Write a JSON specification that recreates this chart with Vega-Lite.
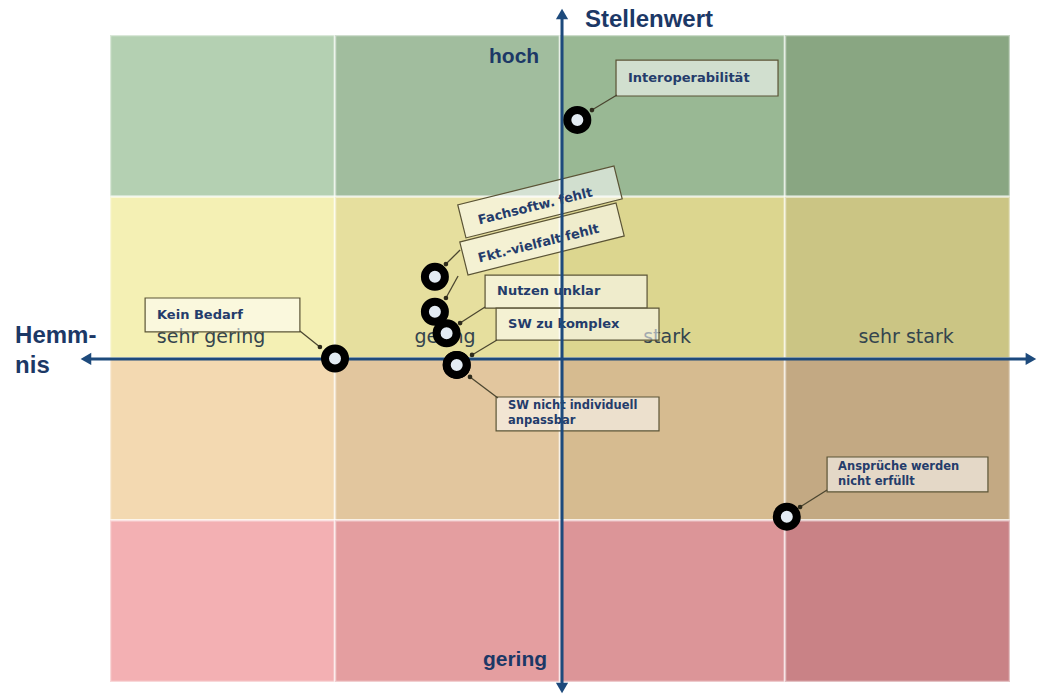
{
  "$schema": "https://vega.github.io/schema/vega-lite/v6.json",
  "width": 900,
  "height": 647,
  "autosize": {"type": "none"},
  "padding": {"left": 110, "top": 35, "right": 29, "bottom": 17},
  "background": "white",
  "config": {"view": {"stroke": null}},
  "datasets": {
    "cells": [
      {"cell": "g1", "x0": 0, "x1": 1, "y0": 3, "y1": 4},
      {"cell": "g2", "x0": 1, "x1": 2, "y0": 3, "y1": 4},
      {"cell": "g3", "x0": 2, "x1": 3, "y0": 3, "y1": 4},
      {"cell": "g4", "x0": 3, "x1": 4, "y0": 3, "y1": 4},
      {"cell": "y1", "x0": 0, "x1": 1, "y0": 2, "y1": 3},
      {"cell": "y2", "x0": 1, "x1": 2, "y0": 2, "y1": 3},
      {"cell": "y3", "x0": 2, "x1": 3, "y0": 2, "y1": 3},
      {"cell": "y4", "x0": 3, "x1": 4, "y0": 2, "y1": 3},
      {"cell": "t1", "x0": 0, "x1": 1, "y0": 1, "y1": 2},
      {"cell": "t2", "x0": 1, "x1": 2, "y0": 1, "y1": 2},
      {"cell": "t3", "x0": 2, "x1": 3, "y0": 1, "y1": 2},
      {"cell": "t4", "x0": 3, "x1": 4, "y0": 1, "y1": 2},
      {"cell": "r1", "x0": 0, "x1": 1, "y0": 0, "y1": 1},
      {"cell": "r2", "x0": 1, "x1": 2, "y0": 0, "y1": 1},
      {"cell": "r3", "x0": 2, "x1": 3, "y0": 0, "y1": 1},
      {"cell": "r4", "x0": 3, "x1": 4, "y0": 0, "y1": 1}
    ],
    "cols": [
      {"label": "sehr gering", "x": 0.449, "y": 2.13},
      {"label": "gering", "x": 1.489, "y": 2.13},
      {"label": "stark", "x": 2.476, "y": 2.13},
      {"label": "sehr stark", "x": 3.538, "y": 2.13}
    ],
    "boxes": [
      {"name": "Interoperabilität", "bx0": 2.249, "bx1": 2.969, "by0": 3.623, "by1": 3.845, "tx": 2.302, "ty": 3.734},
      {"name": "Nutzen unklar", "bx0": 1.667, "bx1": 2.387, "by0": 2.312, "by1": 2.516, "tx": 1.72, "ty": 2.417},
      {"name": "SW zu komplex", "bx0": 1.716, "bx1": 2.44, "by0": 2.114, "by1": 2.312, "tx": 1.769, "ty": 2.213},
      {"name": "Kein Bedarf", "bx0": 0.156, "bx1": 0.844, "by0": 2.164, "by1": 2.374, "tx": 0.209, "ty": 2.269}
    ],
    "boxes2": [
      {"lines": ["SW nicht individuell", "anpassbar"], "bx0": 1.716, "bx1": 2.44, "by0": 1.552, "by1": 1.762, "tx": 1.769, "ty": 1.709},
      {"lines": ["Ansprüche werden", "nicht erfüllt"], "bx0": 3.187, "bx1": 3.902, "by0": 1.175, "by1": 1.391, "tx": 3.236, "ty": 1.329}
    ],
    "tilted": [
      {"name": "Fachsoftw. fehlt", "cx": 1.911, "cy": 2.968, "tx": 1.89, "ty": 2.94},
      {"name": "Fkt.-vielfalt fehlt", "cx": 1.92, "cy": 2.739, "tx": 1.905, "ty": 2.71}
    ],
    "arrows": [
      {"name": "Interoperabilität", "ax": 2.253, "ay": 3.629, "bx": 2.142, "by": 3.536},
      {"name": "Fachsoftw. fehlt", "ax": 1.556, "ay": 2.671, "bx": 1.493, "by": 2.584},
      {"name": "Fkt.-vielfalt fehlt", "ax": 1.547, "ay": 2.51, "bx": 1.493, "by": 2.374},
      {"name": "Nutzen unklar", "ax": 1.667, "ay": 2.318, "bx": 1.556, "by": 2.219},
      {"name": "SW zu komplex", "ax": 1.72, "ay": 2.114, "bx": 1.609, "by": 2.022},
      {"name": "SW nicht individuell anpassbar", "ax": 1.724, "ay": 1.756, "bx": 1.6, "by": 1.886},
      {"name": "Kein Bedarf", "ax": 0.844, "ay": 2.17, "bx": 0.933, "by": 2.071},
      {"name": "Ansprüche werden nicht erfüllt", "ax": 3.187, "ay": 1.187, "bx": 3.067, "by": 1.082}
    ],
    "axes": [
      {"axis": "Hemmnis", "ax": -0.09, "ay": 1.997, "bx": 4.08, "by": 1.997},
      {"axis": "Stellenwert", "ax": 2.009, "ay": -0.03, "bx": 2.009, "by": 4.12}
    ],
    "heads": [
      {"end": "left", "x": -0.107, "y": 1.997},
      {"end": "right", "x": 4.093, "y": 1.997},
      {"end": "up", "x": 2.009, "y": 4.13},
      {"end": "down", "x": 2.009, "y": -0.037}
    ],
    "points": [
      {"name": "Interoperabilität", "hemmnis": 2.077, "stellenwert": 3.475},
      {"name": "Fachsoftw. fehlt", "hemmnis": 1.444, "stellenwert": 2.505},
      {"name": "Fkt.-vielfalt fehlt", "hemmnis": 1.444, "stellenwert": 2.289},
      {"name": "Nutzen unklar", "hemmnis": 1.496, "stellenwert": 2.156},
      {"name": "SW zu komplex", "hemmnis": 1.541, "stellenwert": 1.96},
      {"name": "SW nicht individuell anpassbar", "hemmnis": 1.541, "stellenwert": 1.96},
      {"name": "Kein Bedarf", "hemmnis": 1.0, "stellenwert": 2.0},
      {"name": "Ansprüche werden nicht erfüllt", "hemmnis": 3.008, "stellenwert": 1.022}
    ],
    "titles": [
      {"label": "Stellenwert", "x": 2.111, "y": 4.093},
      {"label": "Hemm-", "x": -0.422, "y": 2.139},
      {"label": "nis", "x": -0.422, "y": 1.954}
    ],
    "levels": [
      {"label": "hoch", "x": 1.796, "y": 3.864},
      {"label": "gering", "x": 1.8, "y": 0.136}
    ]
  },
  "layer": [
    {
      "data": {"name": "cells"},
      "mark": {"type": "rect", "stroke": "#ffffff", "strokeWidth": 2.5, "strokeOpacity": 0.5},
      "encoding": {
        "x": {"field": "x0", "type": "quantitative", "scale": {"domain": [0, 4], "nice": false, "zero": false}, "axis": null},
        "x2": {"field": "x1"},
        "y": {"field": "y0", "type": "quantitative", "scale": {"domain": [0, 4], "nice": false, "zero": false}, "axis": null},
        "y2": {"field": "y1"},
        "color": {
          "field": "cell", "type": "nominal", "legend": null,
          "scale": {
            "domain": ["g1", "g2", "g3", "g4", "y1", "y2", "y3", "y4", "t1", "t2", "t3", "t4", "r1", "r2", "r3", "r4"],
            "range": ["#b4d0b2", "#a1bd9e", "#99b894", "#89a682", "#f4f0b4", "#e6df9e", "#dcd68f", "#cbc584", "#f3d9b1", "#e2c69e", "#d6bb90", "#c3a983", "#f3b0b3", "#e49ea0", "#dc9598", "#c98286"]
          }
        }
      }
    },
    {
      "data": {"name": "cols"},
      "mark": {"type": "text", "font": "DejaVu Sans", "fontSize": 19, "color": "#34444e", "align": "center", "baseline": "middle"},
      "encoding": {
        "x": {"field": "x", "type": "quantitative"},
        "y": {"field": "y", "type": "quantitative"},
        "text": {"field": "label"}
      }
    },
    {
      "data": {"name": "boxes"},
      "mark": {"type": "rect", "fill": "#ffffff", "fillOpacity": 0.55, "stroke": "#5b5436", "strokeWidth": 1.2},
      "encoding": {
        "x": {"field": "bx0", "type": "quantitative"},
        "x2": {"field": "bx1"},
        "y": {"field": "by0", "type": "quantitative"},
        "y2": {"field": "by1"}
      }
    },
    {
      "data": {"name": "boxes2"},
      "mark": {"type": "rect", "fill": "#ffffff", "fillOpacity": 0.55, "stroke": "#5b5436", "strokeWidth": 1.2},
      "encoding": {
        "x": {"field": "bx0", "type": "quantitative"},
        "x2": {"field": "bx1"},
        "y": {"field": "by0", "type": "quantitative"},
        "y2": {"field": "by1"}
      }
    },
    {
      "data": {"name": "tilted"},
      "mark": {"type": "point", "shape": "M-1,-0.211H1V0.211H-1Z", "size": 25921, "angle": 346, "filled": true, "fill": "#ffffff", "fillOpacity": 0.55, "stroke": "#5b5436", "strokeWidth": 1.2, "strokeOpacity": 1},
      "encoding": {
        "x": {"field": "cx", "type": "quantitative"},
        "y": {"field": "cy", "type": "quantitative"}
      }
    },
    {
      "data": {"name": "boxes"},
      "mark": {"type": "text", "font": "DejaVu Sans", "fontWeight": "bold", "fontSize": 13, "color": "#243c6b", "align": "left", "baseline": "middle"},
      "encoding": {
        "x": {"field": "tx", "type": "quantitative"},
        "y": {"field": "ty", "type": "quantitative"},
        "text": {"field": "name"}
      }
    },
    {
      "data": {"name": "boxes2"},
      "mark": {"type": "text", "font": "DejaVu Sans", "fontWeight": "bold", "fontSize": 11.5, "lineHeight": 15, "color": "#243c6b", "align": "left", "baseline": "middle"},
      "encoding": {
        "x": {"field": "tx", "type": "quantitative"},
        "y": {"field": "ty", "type": "quantitative"},
        "text": {"field": "lines"}
      }
    },
    {
      "data": {"name": "tilted"},
      "mark": {"type": "text", "font": "DejaVu Sans", "fontWeight": "bold", "fontSize": 13, "angle": 346, "color": "#243c6b", "align": "center", "baseline": "middle"},
      "encoding": {
        "x": {"field": "tx", "type": "quantitative"},
        "y": {"field": "ty", "type": "quantitative"},
        "text": {"field": "name"}
      }
    },
    {
      "data": {"name": "arrows"},
      "mark": {"type": "rule", "color": "#4b4630", "strokeWidth": 1.3},
      "encoding": {
        "x": {"field": "ax", "type": "quantitative"},
        "y": {"field": "ay", "type": "quantitative"},
        "x2": {"field": "bx"},
        "y2": {"field": "by"}
      }
    },
    {
      "data": {"name": "arrows"},
      "mark": {"type": "point", "shape": "circle", "size": 22, "filled": true, "color": "#2e2b1c", "opacity": 1},
      "encoding": {
        "x": {"field": "bx", "type": "quantitative"},
        "y": {"field": "by", "type": "quantitative"}
      }
    },
    {
      "data": {"name": "axes"},
      "mark": {"type": "rule", "color": "#1d4a7c", "strokeWidth": 3},
      "encoding": {
        "x": {"field": "ax", "type": "quantitative"},
        "y": {"field": "ay", "type": "quantitative"},
        "x2": {"field": "bx"},
        "y2": {"field": "by"}
      }
    },
    {
      "data": {"name": "heads"},
      "mark": {"type": "point", "size": 150, "filled": true, "color": "#1d4a7c", "opacity": 1},
      "encoding": {
        "x": {"field": "x", "type": "quantitative"},
        "y": {"field": "y", "type": "quantitative"},
        "shape": {"field": "end", "type": "nominal", "legend": null, "scale": {"domain": ["left", "right", "up", "down"], "range": ["triangle-left", "triangle-right", "triangle-up", "triangle-down"]}}
      }
    },
    {
      "data": {"name": "points"},
      "mark": {"type": "point", "shape": "circle", "size": 400, "filled": true, "fill": "#e3ebf3", "stroke": "#000000", "strokeWidth": 8, "opacity": 1, "fillOpacity": 1, "strokeOpacity": 1},
      "encoding": {
        "x": {"field": "hemmnis", "type": "quantitative"},
        "y": {"field": "stellenwert", "type": "quantitative"}
      }
    },
    {
      "data": {"name": "titles"},
      "mark": {"type": "text", "font": "Liberation Sans", "fontWeight": "bold", "fontSize": 24, "color": "#1c3866", "align": "left", "baseline": "middle"},
      "encoding": {
        "x": {"field": "x", "type": "quantitative"},
        "y": {"field": "y", "type": "quantitative"},
        "text": {"field": "label"}
      }
    },
    {
      "data": {"name": "levels"},
      "mark": {"type": "text", "font": "Liberation Sans", "fontWeight": "bold", "fontSize": 21, "color": "#1c3866", "align": "center", "baseline": "middle"},
      "encoding": {
        "x": {"field": "x", "type": "quantitative"},
        "y": {"field": "y", "type": "quantitative"},
        "text": {"field": "label"}
      }
    }
  ]
}
